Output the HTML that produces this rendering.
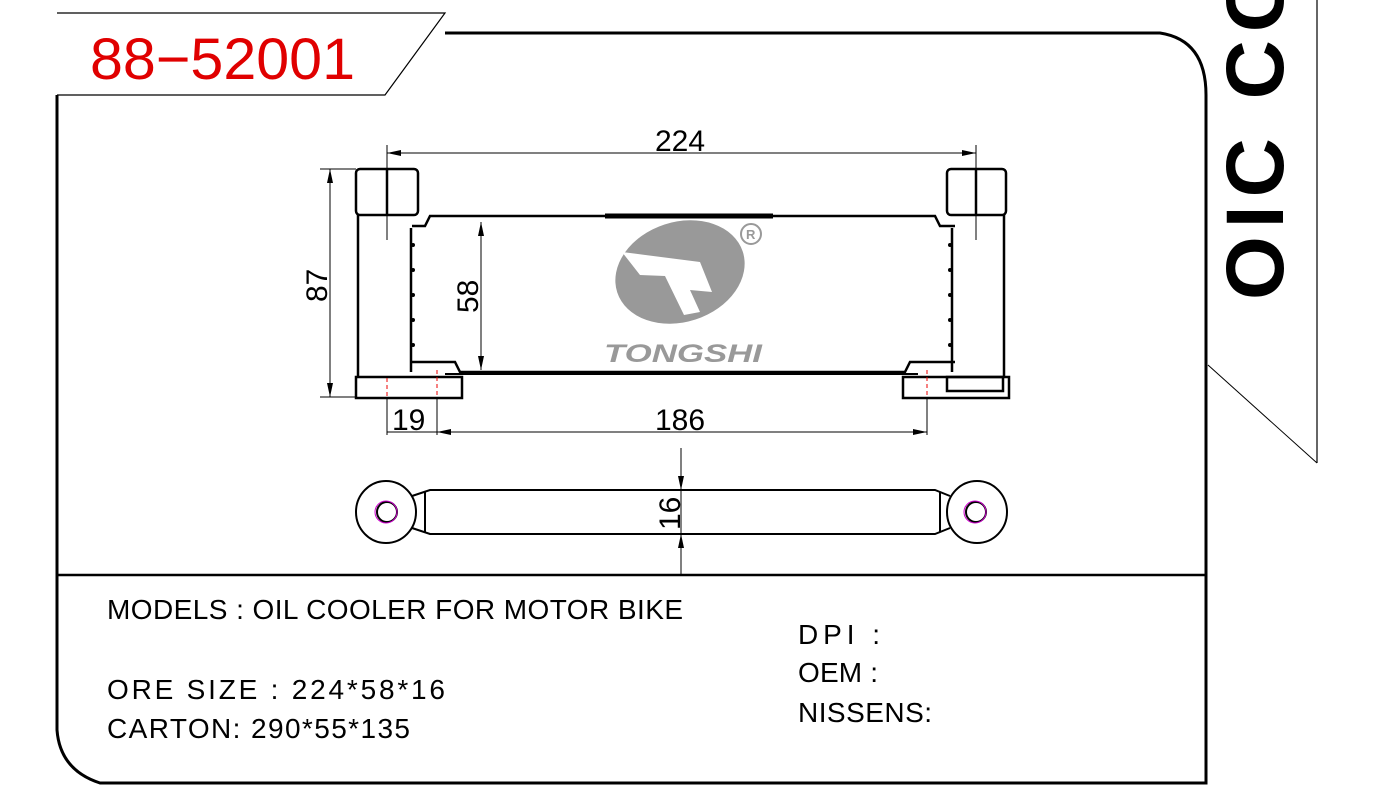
<!DOCTYPE html>
<html><head><meta charset="utf-8"><style>
html,body{margin:0;padding:0;background:#fff;}
svg{display:block;}
text{font-family:"Liberation Sans",sans-serif;}
</style></head><body>
<svg width="1399" height="806" viewBox="0 0 1399 806" xmlns="http://www.w3.org/2000/svg">
<line x1="1317" y1="0" x2="1317" y2="463" stroke="#000" stroke-width="1.2"/>
<line x1="1208" y1="365" x2="1317" y2="463" stroke="#000" stroke-width="1"/>
<text transform="translate(1283,300) rotate(-90)" font-size="82" font-weight="bold" letter-spacing="8">OIC CO</text>
<path d="M445,33 L1160,33 Q1206,40 1206,95 L1206,783 L100,783 Q60,770 57,730 L57,95" fill="none" stroke="#000" stroke-width="3"/>
<line x1="57" y1="575" x2="1206" y2="575" stroke="#000" stroke-width="2.5"/>
<path d="M57,13 L445,13 L385,95 L57,95" fill="#fff" stroke="#000" stroke-width="1.2"/>
<text x="90" y="79" font-size="58" fill="#e00000" textLength="265" lengthAdjust="spacingAndGlyphs">88−52001</text>
<g fill="#999">
<ellipse cx="680" cy="272" rx="66" ry="50" transform="rotate(-18 680 272)"/>
</g>
<path d="M622,252 L700,262 L712,292 L690,290 L700,312 L684,315 L665,276 L640,275 Z" fill="#fff"/>
<circle cx="751" cy="234" r="10" fill="none" stroke="#999" stroke-width="2"/>
<text x="746" y="239" font-size="13" font-weight="bold" fill="#999">R</text>
<text x="604" y="362" font-size="25" font-weight="bold" font-style="italic" fill="#999" textLength="158" lengthAdjust="spacingAndGlyphs">TONGSHI</text>
<g fill="none" stroke="#000" stroke-width="2.5">
<rect x="356" y="169" width="62" height="46" rx="4"/>
<line x1="387" y1="169" x2="387" y2="215"/>
<line x1="358" y1="215" x2="358" y2="378"/>
<line x1="411" y1="228" x2="411" y2="372"/>
<rect x="356" y="377" width="106" height="21"/>
<rect x="947" y="169" width="59" height="46" rx="4"/>
<line x1="976" y1="169" x2="976" y2="215"/>
<line x1="1004" y1="215" x2="1004" y2="378"/>
<line x1="952" y1="228" x2="952" y2="372"/>
<rect x="903" y="377" width="106" height="21"/>
<rect x="947" y="377" width="56" height="14"/>
<path d="M412,226 L425,226 L430,216 L935,216 L940,226 L955,226"/>
<path d="M412,362 L455,362 L460,372 L905,372 L910,362 L955,362"/>
</g>
<g fill="#000">
<circle cx="413" cy="245" r="2"/><circle cx="413" cy="270" r="2"/><circle cx="413" cy="295" r="2"/><circle cx="413" cy="320" r="2"/><circle cx="413" cy="345" r="2"/>
<circle cx="950" cy="245" r="2"/><circle cx="950" cy="270" r="2"/><circle cx="950" cy="295" r="2"/><circle cx="950" cy="320" r="2"/><circle cx="950" cy="345" r="2"/>
</g>
<line x1="605" y1="216" x2="773" y2="216" stroke="#000" stroke-width="5"/>
<line x1="445" y1="374" x2="918" y2="374" stroke="#000" stroke-width="2"/>
<g stroke="#000" stroke-width="1">
<line x1="387" y1="145" x2="387" y2="240"/><line x1="976" y1="145" x2="976" y2="240"/>
<line x1="387" y1="153" x2="976" y2="153"/>
<line x1="320" y1="169" x2="356" y2="169"/><line x1="320" y1="397" x2="356" y2="397"/>
<line x1="330" y1="169" x2="330" y2="397"/>
<line x1="481" y1="222" x2="481" y2="370"/>
<line x1="387" y1="398" x2="387" y2="435"/><line x1="437" y1="398" x2="437" y2="435"/><line x1="927" y1="398" x2="927" y2="435"/>
<line x1="387" y1="432" x2="927" y2="432"/>
<line x1="681" y1="448" x2="681" y2="575"/>
</g>
<g stroke="#e00" stroke-width="1" stroke-dasharray="4,3">
<line x1="387" y1="378" x2="387" y2="398"/><line x1="437" y1="370" x2="437" y2="398"/><line x1="927" y1="370" x2="927" y2="398"/>
</g>
<g fill="#000">
<path d="M387,153 l14,-3 v6z"/><path d="M976,153 l-14,-3 v6z"/>
<path d="M330,169 l-3,14 h6z"/><path d="M330,397 l-3,-14 h6z"/>
<path d="M481,222 l-3,14 h6z"/><path d="M481,370 l-3,-14 h6z"/>
<path d="M437,432 l14,-3 v6z"/><path d="M927,432 l-14,-3 v6z"/>
<path d="M681,490 l-3,-14 h6z"/><path d="M681,534 l-3,14 h6z"/>
</g>
<text x="655" y="151" font-size="30" font-family="Liberation Serif,serif">224</text>
<text transform="translate(327,302) rotate(-90)" font-size="30" font-family="Liberation Serif,serif">87</text>
<text transform="translate(478,313) rotate(-90)" font-size="30" font-family="Liberation Serif,serif">58</text>
<text x="392" y="430" font-size="30" font-family="Liberation Serif,serif">19</text>
<text x="655" y="430" font-size="30" font-family="Liberation Serif,serif">186</text>
<text transform="translate(680,530) rotate(-90)" font-size="30" font-family="Liberation Serif,serif">16</text>
<g fill="none" stroke="#000" stroke-width="2">
<ellipse cx="386" cy="512" rx="30" ry="31"/>
<ellipse cx="977" cy="512" rx="30" ry="31"/>
<path d="M412,496 L430,490 L935,490 L950,496"/>
<path d="M412,528 L430,534 L935,534 L950,528"/>
<line x1="425" y1="492" x2="425" y2="532"/><line x1="940" y1="492" x2="940" y2="532"/>
<circle cx="387" cy="512" r="10"/><circle cx="976" cy="512" r="10"/>
</g>
<circle cx="386" cy="512" r="11" fill="none" stroke="#c0c" stroke-width="1"/>
<circle cx="975" cy="512" r="11" fill="none" stroke="#c0c" stroke-width="1"/>
<g font-size="28">
<text x="107" y="619" textLength="576" lengthAdjust="spacing">MODELS : OIL COOLER FOR MOTOR BIKE</text>
<text x="107" y="699" textLength="338" lengthAdjust="spacing">ORE SIZE : 224*58*16</text>
<text x="107" y="738" textLength="303" lengthAdjust="spacing">CARTON: 290*55*135</text>
<text x="798" y="644" textLength="82" lengthAdjust="spacing">DPI :</text>
<text x="798" y="682" textLength="80" lengthAdjust="spacing">OEM :</text>
<text x="798" y="722" textLength="134" lengthAdjust="spacing">NISSENS:</text>
</g>
</svg>
</body></html>
